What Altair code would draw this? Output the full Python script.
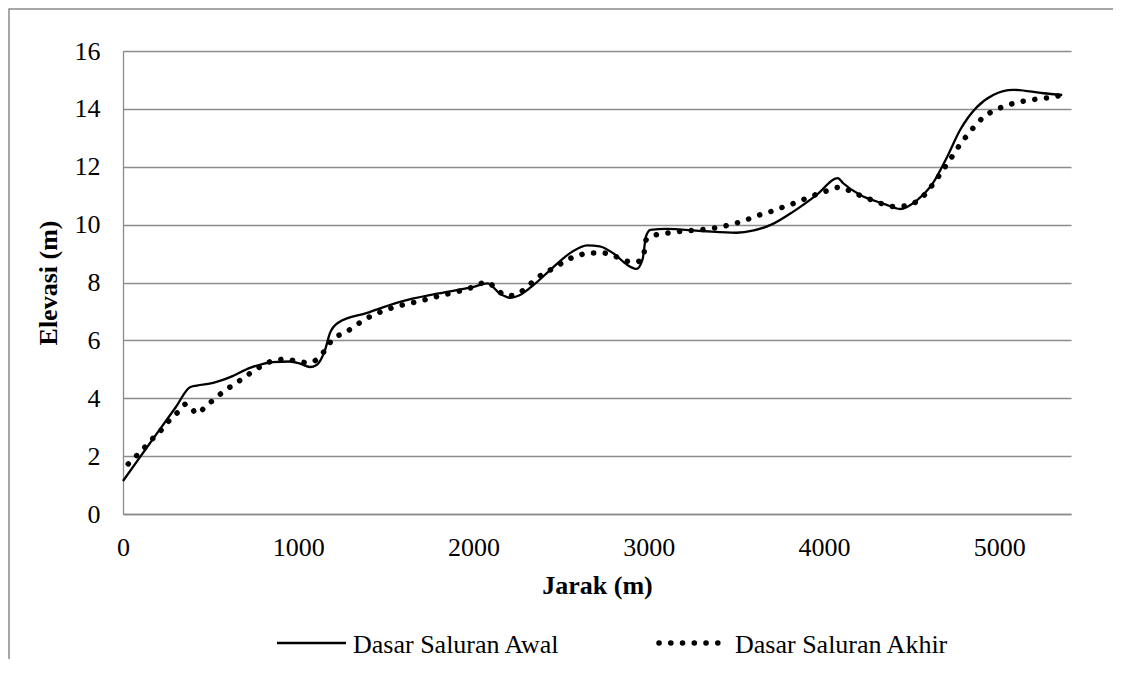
import altair as alt
import pandas as pd

# ---- data ----
awal_x = [0, 100, 200, 300, 382, 420, 514, 611, 725, 857, 953, 1010, 1067, 1105, 1153, 1181, 1228,
          1393, 1581, 1800, 2000, 2080, 2150, 2210, 2260, 2350, 2450, 2560, 2650,
          2720, 2800, 2880, 2930, 2965, 2985, 3010, 3100, 3300, 3500, 3600, 3700,
          3825, 3959, 4079, 4110, 4205, 4342, 4435, 4532, 4623, 4703, 4777, 4874,
          4966, 5080, 5251, 5360]
awal_y = [1.14, 1.99, 2.84, 3.68, 4.38, 4.44, 4.53, 4.73, 5.05, 5.25, 5.27, 5.20, 5.08, 5.15, 5.67, 6.25, 6.61,
          6.95, 7.33, 7.62, 7.85, 7.97, 7.62, 7.47, 7.55, 7.95, 8.50, 9.05, 9.28,
          9.25, 9.00, 8.60, 8.47, 8.80, 9.60, 9.82, 9.85, 9.78, 9.72, 9.80, 10.00,
          10.45, 11.03, 11.61, 11.43, 11.03, 10.72, 10.54, 10.85, 11.44, 12.34, 13.27, 14.07,
          14.48, 14.66, 14.54, 14.48]

akhir_x = [30, 78, 126, 173, 221, 264, 312, 360, 392, 421, 472, 525, 578, 634, 690, 744,
           805, 868, 930, 997, 1063, 1124, 1163, 1200, 1263, 1318, 1376, 1434, 1499, 1562,
           1695, 1809, 1924, 2000, 2078, 2135, 2192, 2249, 2306, 2363, 2420, 2477, 2534,
           2591, 2665, 2740, 2803, 2865, 2928, 2968, 2985, 3019, 3082, 3156, 3293, 3408,
           3521, 3636, 3706, 3769, 3834, 3897, 3959, 4024, 4089, 4151, 4214, 4279, 4342,
           4408, 4473, 4534, 4583, 4625, 4665, 4703, 4741, 4779, 4821, 4863, 4910, 4967,
           5030, 5095, 5161, 5230, 5297, 5361]
akhir_y = [1.73, 2.02, 2.32, 2.63, 2.92, 3.23, 3.51, 3.80, 3.65, 3.46, 3.72, 3.99, 4.25, 4.48, 4.71, 4.94,
           5.16, 5.32, 5.35, 5.27, 5.23, 5.44, 5.75, 6.07, 6.25, 6.47, 6.71, 6.89, 7.05, 7.17,
           7.36, 7.54, 7.71, 7.85, 8.02, 7.74, 7.54, 7.60, 7.85, 8.16, 8.37, 8.57, 8.78,
           8.92, 9.02, 9.02, 8.92, 8.75, 8.71, 8.85, 9.47, 9.61, 9.68, 9.75, 9.82, 9.92,
           10.09, 10.34, 10.47, 10.61, 10.75, 10.90, 11.05, 11.18, 11.29, 11.16, 10.99, 10.84, 10.70,
           10.62, 10.66, 10.82, 11.09, 11.42, 11.76, 12.10, 12.44, 12.79, 13.11, 13.42, 13.71, 13.93,
           14.09, 14.21, 14.29, 14.35, 14.40, 14.48]

x_ticks = [0, 1000, 2000, 3000, 4000, 5000]
y_ticks = [0, 2, 4, 6, 8, 10, 12, 14, 16]
series_names = ["Dasar Saluran Awal", "Dasar Saluran Akhir"]
x_title = "Jarak (m)"
y_title = "Elevasi (m)"

FONT = "Liberation Serif"
GRID = "#8c8c8c"
FS = 26

awal_df = pd.DataFrame({"x": awal_x, "y": awal_y})
akhir_df = pd.DataFrame({"x": akhir_x, "y": akhir_y})

x_scale = alt.Scale(domain=[0, 5410], nice=False, zero=False)
y_scale = alt.Scale(domain=[0, 16], nice=False)

x_axis = alt.Axis(values=x_ticks, title=x_title, grid=False, ticks=False, tickSize=0,
                  format="d", labelPadding=41, labelBaseline="alphabetic", labelFlush=False,
                  labelFont=FONT, labelFontSize=FS, labelColor="black",
                  titleFont=FONT, titleFontSize=FS, titleColor="black", titleFontWeight="bold",
                  titleY=79, titleBaseline="alphabetic",
                  domainColor=GRID, domainWidth=1.3)
y_axis = alt.Axis(values=y_ticks, title=y_title, grid=True, gridColor=GRID, gridWidth=1.3,
                  ticks=False, tickSize=0, labelPadding=23, labelBaseline="middle", labelFlush=False,
                  labelFont=FONT, labelFontSize=FS, labelColor="black",
                  titleFont=FONT, titleFontSize=FS, titleColor="black", titleFontWeight="bold",
                  titleAngle=270, titleX=-67, titleY=231.5, titleBaseline="alphabetic",
                  titleAlign="center", domainColor=GRID, domainWidth=1.3)

awal = alt.Chart(awal_df).mark_line(color="black", strokeWidth=2.3, interpolate="monotone").encode(
    x=alt.X("x:Q", scale=x_scale, axis=x_axis),
    y=alt.Y("y:Q", scale=y_scale, axis=y_axis),
)

akhir = alt.Chart(akhir_df).mark_line(color="black", strokeWidth=5.5, strokeCap="round",
                                      strokeDash=[0.1, 11.65], interpolate="monotone").encode(
    x=alt.X("x:Q", scale=x_scale),
    y=alt.Y("y:Q", scale=y_scale),
)

one = alt.Data(values=[{"a": 1}])

border = alt.Chart(one).mark_rect(filled=False, stroke="#8a8a8a", strokeWidth=1.5).encode(
    x=alt.value(-114), x2=alt.value(1200), y=alt.value(-42), y2=alt.value(800)
)

leg_solid = alt.Chart(one).mark_rule(color="black", strokeWidth=2.3).encode(
    x=alt.value(154), x2=alt.value(223), y=alt.value(592)
)
leg_dot = alt.Chart(one).mark_rule(color="black", strokeWidth=5.5, strokeCap="round",
                                   strokeDash=[0.1, 11.65]).encode(
    x=alt.value(536), x2=alt.value(597), y=alt.value(592)
)
leg_text1 = alt.Chart(one).mark_text(align="left", baseline="alphabetic", font=FONT,
                                     fontSize=FS, color="black").encode(
    x=alt.value(230), y=alt.value(602), text=alt.value(series_names[0])
)
leg_text2 = alt.Chart(one).mark_text(align="left", baseline="alphabetic", font=FONT,
                                     fontSize=FS, color="black").encode(
    x=alt.value(612), y=alt.value(602), text=alt.value(series_names[1])
)

chart = alt.layer(border, awal, akhir, leg_solid, leg_dot, leg_text1, leg_text2).properties(
    width=948, height=463,
    padding={"left": 115, "top": 43, "right": 42, "bottom": 145},
    autosize=alt.AutoSizeParams(type="none"),
    background="white",
).configure(font=FONT).configure_view(stroke=None)

chart.save("out.html", embed_options={"renderer": "svg", "actions": False})
